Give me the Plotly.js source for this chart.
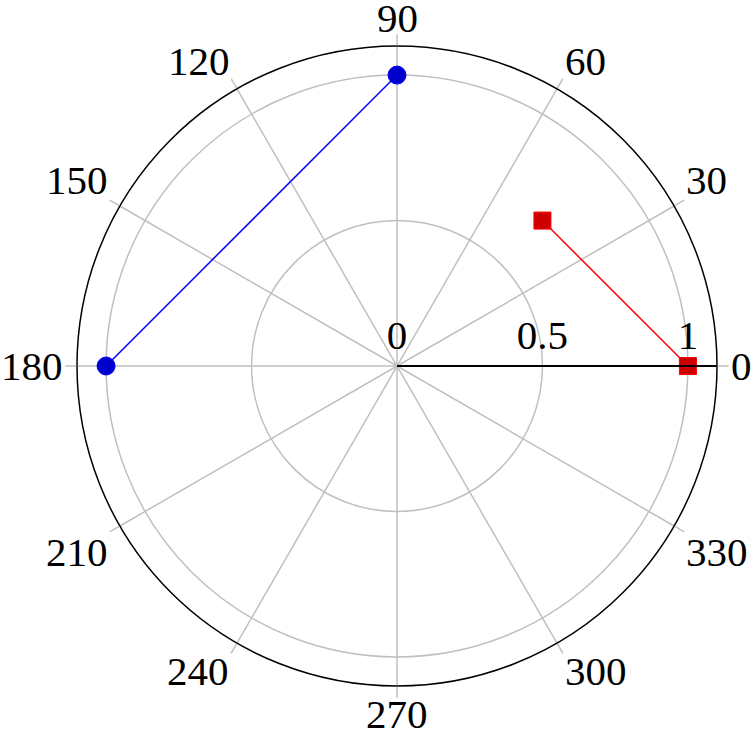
<!DOCTYPE html>
<html>
<head>
<meta charset="utf-8">
<script src="https://cdn.plot.ly/plotly-3.0.1.min.js"></script>
<style>
  html, body { margin: 0; padding: 0; background: #fff; }
  #chart { width: 756px; height: 733px; }
</style>
</head>
<body>
<div id="chart"></div>
<script>
// series (r, theta in degrees)
const blueR = [1, 1];
const blueTheta = [90, 180];
const redR = [0.707, 1];
const redTheta = [45, 0];

const angleTicks = [0, 30, 60, 90, 120, 150, 180, 210, 240, 270, 300, 330];
const radialTicks = [0, 0.5, 1];

const serif = 'Liberation Serif, DejaVu Serif, serif';
const W = 756, H = 733;
const margin = { l: 77, r: 39, t: 46, b: 47, pad: 0 };
const labelGap = 13; // px beyond the outer circle, like pgfplots

// angular labels as annotations anchored outside each tick (pgfplots style)
function angleLabels() {
  const w = W - margin.l - margin.r, h = H - margin.t - margin.b;
  const rad = Math.min(w, h) / 2 + labelGap;
  return angleTicks.map(a => {
    const t = a * Math.PI / 180;
    const c = Math.cos(t), s = Math.sin(t);
    return {
      xref: 'paper', yref: 'paper',
      x: 0.5 + rad * c / w,
      y: 0.5 + rad * s / h,
      text: String(a),
      showarrow: false,
      xanchor: Math.abs(c) < 0.01 ? 'center' : (c > 0 ? 'left' : 'right'),
      yanchor: Math.abs(s) < 0.01 ? 'middle' : (s > 0 ? 'bottom' : 'top'),
      yshift: -9 * s, // text box has slack above the digits and below the baseline
      borderpad: 0,
      font: { family: serif, size: 41, color: '#000' },
    };
  });
}

const traces = [
  {
    type: 'scatterpolar',
    r: blueR,
    theta: blueTheta,
    mode: 'lines+markers',
    line: { color: '#0000ff', width: 1.5 },
    marker: { symbol: 'circle', size: 18, color: '#0000cc', line: { color: '#0000ff', width: 1 } },
    cliponaxis: false,
  },
  {
    type: 'scatterpolar',
    r: redR,
    theta: redTheta,
    mode: 'lines+markers',
    line: { color: '#ff0000', width: 1.5 },
    marker: { symbol: 'square', size: 17, color: '#cc0000', line: { color: '#ff0000', width: 1 } },
    cliponaxis: false,
  },
];

const layout = {
  width: W,
  height: H,
  showlegend: false,
  paper_bgcolor: '#fff',
  margin: margin,
  font: { family: serif, size: 41, color: '#000' },
  annotations: angleLabels(),
  polar: {
    bgcolor: '#fff',
    domain: { x: [0, 1], y: [0, 1] },
    radialaxis: {
      range: [0, 1.1],
      tickvals: radialTicks,
      ticktext: radialTicks.map(String),
      angle: 0,
      side: 'counterclockwise',
      showline: true,
      linecolor: '#000',
      linewidth: 2,
      gridcolor: '#c0c0c0',
      gridwidth: 1.5,
      ticks: '',
      tickfont: { family: serif, size: 41, color: '#000' },
    },
    angularaxis: {
      tickvals: angleTicks,
      showticklabels: false,
      direction: 'counterclockwise',
      rotation: 0,
      showline: true,
      linecolor: '#000',
      linewidth: 1.5,
      gridcolor: '#c0c0c0',
      gridwidth: 1.5,
      ticks: 'outside',
      ticklen: 11,
      tickcolor: '#c0c0c0',
      tickwidth: 1.5,
    },
  },
};

Plotly.newPlot('chart', traces, layout, { displayModeBar: false, staticPlot: true });
</script>
</body>
</html>
